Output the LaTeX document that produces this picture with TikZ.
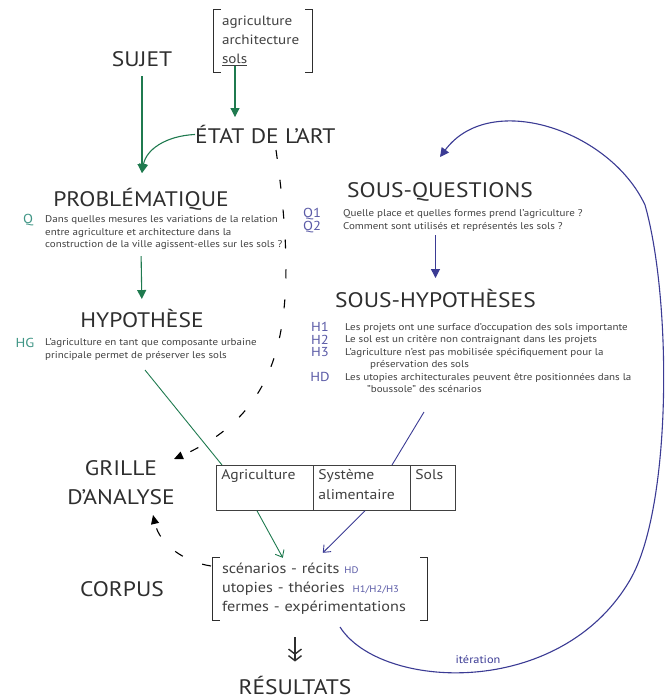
\documentclass[tikz,border=0pt]{standalone}
\usepackage{fontspec}
\setmainfont[FakeStretch=1.12]{PT Sans}
\usetikzlibrary{arrows.meta}
\definecolor{greenarrow}{HTML}{1F7A4F}
\definecolor{bluearrow}{HTML}{3B3B94}
\definecolor{tealtag}{HTML}{3F9585}
\definecolor{bluetag}{HTML}{5A5AA6}
\definecolor{inkgray}{HTML}{2E2E2E}
\definecolor{textgray}{HTML}{404040}
\begin{document}
\begin{tikzpicture}[x=1pt,y=-1pt,
  title node/.style={inner sep=0pt,text=inkgray,font=\fontsize{21}{29}\selectfont},
  body node/.style={inner sep=0pt,text=textgray,align=left,font=\fontsize{9.8}{12.5}\selectfont},
  tag node/.style={inner sep=0pt,font=\fontsize{13}{13}\selectfont},
  bracket node/.style={inner xsep=8pt,inner ysep=0pt,text=textgray,align=left,font=\fontsize{13.5}{19}\selectfont},
  bracket/.style={draw=inkgray,line width=1.2pt},
  green arrow/.style={draw=greenarrow,line width=1.1pt,-{Triangle[length=9pt,width=9pt]}},
  blue arrow/.style={draw=bluearrow,line width=1.1pt,-{Triangle[length=9pt,width=9pt]}},
  green open/.style={draw=greenarrow,line width=0.9pt,-{Straight Barb[length=6pt,width=10pt]}},
  blue open/.style={draw=bluearrow,line width=0.9pt,-{Straight Barb[length=6pt,width=10pt]}},
  dash arrow/.style={draw=black,line width=1.1pt,dash pattern=on 9pt off 21pt,-{Triangle[length=9pt,width=8pt]}}]
\useasboundingbox (0,0) rectangle (666,699);

% left column
\node[title node,anchor=base] (sujet) at (142,66) {SUJET};
\node[bracket node,minimum width=98pt,minimum height=62pt,text width=82pt] (kw) at (263,41)
  {agriculture\\architecture\\\underline{sols}};
\node[title node,anchor=base west] (etat) at (195,143.5) {ÉTAT DE L'ART};
\node[title node,anchor=base] (prob) at (141,206.5) {PROBLÉMATIQUE};
\node[tag node,text=tealtag] (q tag) at (28,220) {Q};
\node[body node,anchor=west] (q text) at (45,233)
  {Dans quelles mesures les variations de la relation\\entre agriculture et architecture dans la\\construction de la ville agissent-elles sur les sols ?};
\node[title node,anchor=base] (hyp) at (142,327.5) {HYPOTHÈSE};
\node[tag node,text=tealtag] (hg tag) at (25,343) {HG};
\node[body node,anchor=west] (hg text) at (45,349.5)
  {L'agriculture en tant que composante urbaine\\principale permet de préserver les sols};

% right column
\node[title node,anchor=base west] (sq) at (347,197.5) {SOUS-QUESTIONS};
\node[tag node,text=bluetag] (q1 tag) at (312,214) {Q1};
\node[tag node,text=bluetag] (q2 tag) at (312,227) {Q2};
\node[body node,anchor=west] (sq text) at (343,220.5)
  {Quelle place et quelles formes prend l'agriculture ?\\Comment sont utilisés et représentés les sols ?};
\node[title node,anchor=base west] (sh) at (335,307.5) {SOUS-HYPOTHÈSES};
\node[tag node,text=bluetag] (h1 tag) at (320,327) {H1};
\node[tag node,text=bluetag] (h2 tag) at (320,339.5) {H2};
\node[tag node,text=bluetag] (h3 tag) at (320,352) {H3};
\node[tag node,text=bluetag] (hd tag) at (320,376.5) {HD};
\node[body node,anchor=west,font=\fontsize{9.8}{12.4}\selectfont] (sh text) at (345,358)
  {Les projets ont une surface d'occupation des sols importante\\
   Le sol est un critère non contraignant dans les projets\\
   L'agriculture n'est pas mobilisée spécifiquement pour la\\
   \hspace*{25pt}préservation des sols\\
   Les utopies architecturales peuvent être positionnées dans la\\
   \hspace*{22pt}"boussole" des scénarios};

% bottom
\node[title node,align=center] (grille) at (121,483) {GRILLE\\D'ANALYSE};
\node[draw=textgray,line width=0.8pt,inner sep=0pt,fill=white,text=textgray,
  font=\fontsize{14}{20}\selectfont,anchor=north west] (grid) at (216,465)
  {\setlength\tabcolsep{5pt}\setlength\arrayrulewidth{0.8pt}%
   \begin{tabular}{p{87pt}|p{87pt}|p{35pt}}
   Agriculture & Système\newline alimentaire & Sols\rule[-31pt]{0pt}{31pt}
   \end{tabular}};
\node[title node,anchor=base] (corpus label) at (122,596) {CORPUS};
\node[bracket node,minimum width=214pt,minimum height=62pt,text width=196pt,
  inner xsep=9pt,font=\fontsize{14.5}{19}\selectfont] (corpus) at (320,589)
  {scénarios - récits {\color{bluetag}\fontsize{9.5}{12}\selectfont HD}\\
   utopies - théories\hspace{8pt}{\color{bluetag}\fontsize{9.5}{12}\selectfont H1/H2/H3}\\
   fermes - expérimentations};
\node[title node,anchor=base] (res) at (295,694) {RÉSULTATS};
\node[inner sep=0pt,text=bluearrow,font=\fontsize{11}{11}\selectfont] (iter) at (478,660) {itération};

% brackets
\draw[bracket] ([xshift=7pt]kw.north west) -- (kw.north west) -- (kw.south west) -- ([xshift=7pt]kw.south west);
\draw[bracket] ([xshift=-7pt]kw.north east) -- (kw.north east) -- (kw.south east) -- ([xshift=-7pt]kw.south east);
\draw[bracket] ([xshift=7pt]corpus.north west) -- (corpus.north west) -- (corpus.south west) -- ([xshift=7pt]corpus.south west);
\draw[bracket] ([xshift=-7pt]corpus.north east) -- (corpus.north east) -- (corpus.south east) -- ([xshift=-7pt]corpus.south east);

% connectors
\coordinate (sols) at (235,66);
\coordinate (prob in) at (142,173);
\coordinate (hyp out) at (145,370);
\coordinate (sh out) at (424,412);
\coordinate (etat dash) at (276,150);
\coordinate (grille in) at (174,459);
\coordinate (corpus out) at (211,566);
\coordinate (grille in2) at (153,515);
\coordinate (iter start) at (340,627);
\coordinate (sq in) at (440,157);

\draw[green arrow,shorten >=8pt] (sols) -- (sols |- etat.north);
\draw[green arrow,shorten <=10pt] (sujet.south) -- (prob in);
\draw[green arrow] (etat.west) .. controls (165,136) and (146,150) .. (prob in);
\draw[green arrow,shorten <=6pt,shorten >=10pt] (prob.south |- q text.south) -- (hyp.north);
\draw[blue arrow,shorten <=4pt,shorten >=11pt] (sh.north |- sq text.south) -- (sh.north);

\draw[dash arrow] (etat dash) .. controls (300,320) and (285,410) .. (grille in);
\draw[dash arrow] (corpus out) .. controls (185,562) and (160,545) .. (grille in2);

\draw[draw=greenarrow,line width=0.9pt] (hyp out) -- ([xshift=6pt]grid.north west);
\draw[draw=bluearrow,line width=0.9pt] (sh out) -- ([xshift=176pt]grid.north west);
\draw[green open] ([xshift=41pt]grid.south west) -- ([xshift=70pt]corpus.north west);
\draw[blue open] ([xshift=149pt]grid.south west) -- ([xshift=110pt,yshift=5pt]corpus.north west);

\draw[blue arrow] (iter start) .. controls (380,690) and (560,700) .. (630,580)
  .. controls (672,508) and (672,300) .. (645,205)
  .. controls (610,130) and (490,90) .. (sq in);

\draw[draw=inkgray,line width=1.4pt,shorten <=17pt,shorten >=14pt,
  -{Straight Barb[length=5pt,width=13pt]Straight Barb[length=5pt,width=13pt]}]
  (res.north |- corpus.south) -- (res.north);
\end{tikzpicture}
\end{document}
